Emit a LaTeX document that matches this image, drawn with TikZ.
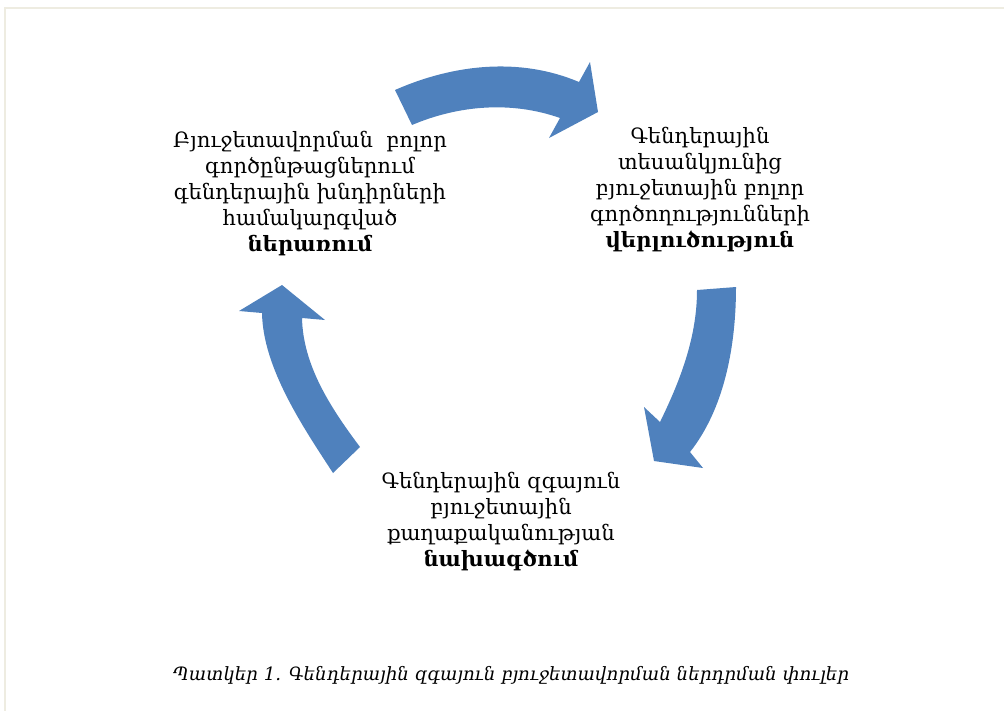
\documentclass[tikz,border=0pt]{standalone}
\usepackage{fontspec}
\setmainfont{DejaVu Serif}
\usetikzlibrary{positioning}
\definecolor{arrowblue}{HTML}{4F81BD}
\definecolor{framebeige}{HTML}{EEECE1}
\tikzset{
  steptext/.style={align=center, font=\fontsize{15}{18.5}\selectfont, inner sep=0pt},
  cyclearrow/.style={fill=arrowblue},
}
\begin{document}
\begin{tikzpicture}[x=0.025cm, y=-0.025cm]
    \useasboundingbox (0,0) rectangle (1004,711);
    \draw[framebeige, line width=0.05cm] (5,711) -- (5,8) -- (1004,8); % frame
    % step texts
    \node[steptext] (incl) at (310,194) {Բյուջետավորման\ \ բոլոր\\ գործընթացներում\\ գենդերային խնդիրների\\ համակարգված\\ \textbf{ներառում}};
    \node[steptext] (anal) at (700,190) {Գենդերային\\ տեսանկյունից\\ բյուջետային բոլոր\\ գործողությունների\\ \textbf{վերլուծություն}};
    \node[steptext] (plan) at (501,522) {Գենդերային զգայուն\\ բյուջետային\\ քաղաքականության\\ \textbf{նախագծում}};
    % curved block arrows
    \fill[cyclearrow] (395,90) .. controls (454,64) and (520,57) .. (579,82)
        -- (590,62) -- (598,112) -- (549,138) -- (560,118)
        .. controls (512,101) and (459,105) .. (412,125) -- cycle;
    \fill[cyclearrow] (736,287) .. controls (736,347) and (724,409) .. (690,452)
        -- (703,468) -- (654,461) -- (644,407) -- (660,422)
        .. controls (682,377) and (697,335) .. (697,290) -- cycle;
    \fill[cyclearrow] (360,447) .. controls (330,407) and (303,365) .. (302,318)
        -- (325,320) -- (282,285) -- (239,311) -- (262,313)
        .. controls (263,368) and (303,427) .. (333,473) -- cycle;
    % caption
    \node[font=\fontsize{13}{16}\selectfont\itshape, inner sep=0pt] (cap) at (511,675) {Պատկեր 1. Գենդերային զգայուն բյուջետավորման ներդրման փուլեր};
\end{tikzpicture}
\end{document}
